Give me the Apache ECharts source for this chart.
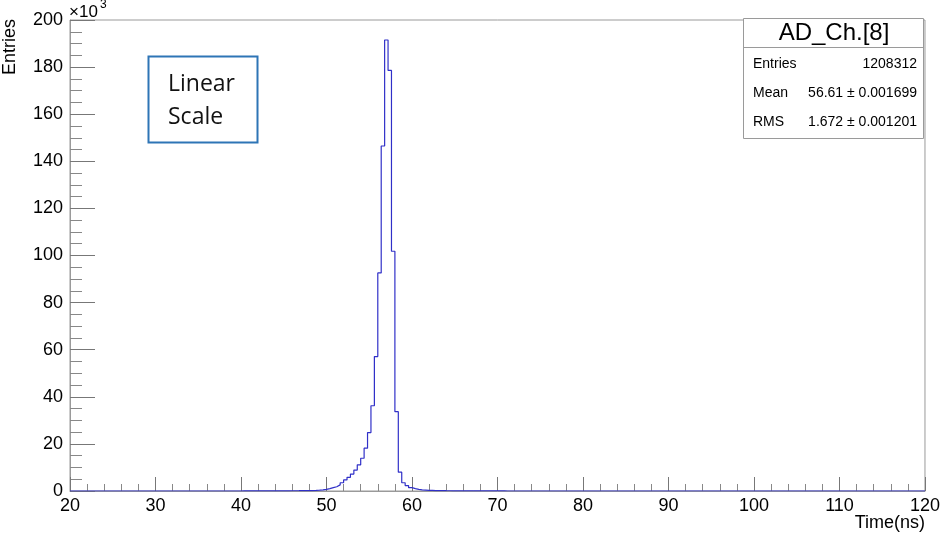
<!DOCTYPE html>
<html>
<head>
<meta charset="utf-8">
<script src="https://cdn.jsdelivr.net/npm/echarts@6/dist/echarts.min.js"></script>
<style>
html,body{margin:0;padding:0;background:#fff;}
#chart{width:943px;height:534px;}
</style>
</head>
<body>
<div id="chart"></div>
<script>
// Histogram binning (ns)
const binStart = 20;
const binWidth = 0.4;
const xTicks = [20, 30, 40, 50, 60, 70, 80, 90, 100, 110, 120];
const yTicks = [0, 20, 40, 60, 80, 100, 120, 140, 160, 180, 200];
// Entries per bin, in units of 10^3 (250 bins from 20 to 120 ns)
const counts = [
  0,0,0,0,0,0,0,0,0,0,
  0,0,0,0,0,0,0,0,0,0,
  0,0,0,0,0,0,0,0,0,0,
  0,0,0,0,0,0,0,0,0,0,
  0,0,0,0,0,0,0,0,0,0,
  0.02,0.02,0.02,0.03,0.03,0.03,0.04,0.04,0.05,0.05,
  0.06,0.07,0.08,0.09,0.1,0.11,0.12,0.14,0.16,0.18,
  0.2,0.25,0.35,0.5,0.7,1.0,1.4,1.8,2.6,3.5,
  4.7,5.8,7.2,8.9,11.1,13.9,18.2,24.8,36.2,57.1,
  92.6,146.5,191.5,178.6,101.8,33.7,8.0,3.5,2.3,1.4,
  1.0,0.7,0.5,0.4,0.3,0.25,0.2,0.18,0.15,0.12,
  0.1,0.09,0.08,0.07,0.06,0.05,0.05,0.04,0.04,0.03,
  0.03,0.03,0.02,0.02,0.02,0.02,0.02,0.01,0.01,0.01,
  0,0,0,0,0,0,0,0,0,0,
  0,0,0,0,0,0,0,0,0,0,
  0,0,0,0,0,0,0,0,0,0,
  0,0,0,0,0,0,0,0,0,0,
  0,0,0,0,0,0,0,0,0,0,
  0,0,0,0,0,0,0,0,0,0,
  0,0,0,0,0,0,0,0,0,0,
  0,0,0,0,0,0,0,0,0,0,
  0,0,0,0,0,0,0,0,0,0,
  0,0,0,0,0,0,0,0,0,0,
  0,0,0,0,0,0,0,0,0,0,
  0,0,0,0,0,0,0,0,0,0
];
const statsTitle = 'AD_Ch.[8]';
const statsRows = [
  ['Entries', '1208312'],
  ['Mean', '56.61 \u00b1 0.001699'],
  ['RMS', '1.672 \u00b1 0.001201']
];
const noteLines = ['Linear', 'Scale'];

const stepData = counts.map((c, i) => [binStart + binWidth * i, c]);
stepData.push([binStart + binWidth * counts.length, counts[counts.length - 1]]);

const FONT = 'Liberation Sans, Arial, Helvetica, sans-serif';
const chart = echarts.init(document.getElementById('chart'), null, {renderer: 'canvas'});

const graphics = [
  // y-axis title
  {type: 'text', x: 10, y: 47, rotation: Math.PI / 2,
   style: {text: 'Entries', font: '18px ' + FONT, fill: '#000', align: 'center', verticalAlign: 'middle'}},
  // multiplier
  {type: 'text', x: 69, y: 12,
   style: {text: '\u00d710', font: '17px ' + FONT, fill: '#000', align: 'left', verticalAlign: 'middle'}},
  {type: 'text', x: 100, y: 5,
   style: {text: '3', font: '12px ' + FONT, fill: '#000', align: 'left', verticalAlign: 'middle'}},
  // x-axis title
  {type: 'text', x: 925, y: 523,
   style: {text: 'Time(ns)', font: '18px ' + FONT, fill: '#000', align: 'right', verticalAlign: 'middle'}},
  // stats box
  {type: 'rect', shape: {x: 743.5, y: 18.5, width: 180, height: 120},
   style: {fill: '#fff', stroke: '#9a9a9a', lineWidth: 1}, z: 10},
  {type: 'line', shape: {x1: 743.5, y1: 47.5, x2: 923.5, y2: 47.5},
   style: {stroke: '#9a9a9a', lineWidth: 1}, z: 11},
  {type: 'text', x: 834, y: 33, z: 12,
   style: {text: statsTitle, font: '24px ' + FONT, fill: '#000', align: 'center', verticalAlign: 'middle'}},
  // note box
  {type: 'rect', shape: {x: 148.5, y: 56.5, width: 109, height: 86},
   style: {fill: '#fff', stroke: '#2e75b6', lineWidth: 2}, z: 10}
];
statsRows.forEach((r, i) => {
  const yy = 64 + i * 29;
  graphics.push({type: 'text', x: 753, y: yy, z: 12,
    style: {text: r[0], font: '14px ' + FONT, fill: '#000', align: 'left', verticalAlign: 'middle'}});
  graphics.push({type: 'text', x: 917, y: yy, z: 12,
    style: {text: r[1], font: '14px ' + FONT, fill: '#000', align: 'right', verticalAlign: 'middle'}});
});
noteLines.forEach((t, i) => {
  graphics.push({type: 'text', x: 168, y: 84 + i * 33, z: 12,
    style: {text: t, font: '23px "Open Sans", sans-serif', fill: '#111', align: 'left', verticalAlign: 'middle'}});
});

chart.setOption({
  animation: false,
  backgroundColor: '#fff',
  grid: {left: 70, right: 18, top: 20, bottom: 43, show: true, borderColor: '#9a9a9a', borderWidth: 1, containLabel: false},
  xAxis: {
    type: 'value', min: xTicks[0], max: xTicks[xTicks.length - 1], interval: xTicks[1] - xTicks[0],
    axisLine: {show: true, lineStyle: {color: '#9a9a9a', width: 1}},
    axisTick: {show: true, inside: true, length: 14, lineStyle: {color: '#777'}},
    minorTick: {show: true, splitNumber: 5, length: 7, lineStyle: {color: '#888'}},
    splitLine: {show: false},
    axisLabel: {show: true, margin: 6, color: '#000', fontSize: 18, fontFamily: FONT,
      formatter: v => String(v)}
  },
  yAxis: {
    type: 'value', min: yTicks[0], max: yTicks[yTicks.length - 1], interval: yTicks[1] - yTicks[0],
    axisLine: {show: true, lineStyle: {color: '#9a9a9a', width: 1}},
    axisTick: {show: true, inside: true, length: 25, lineStyle: {color: '#777'}},
    minorTick: {show: true, splitNumber: 4, length: 12, lineStyle: {color: '#888'}},
    splitLine: {show: false},
    axisLabel: {show: true, margin: 7, color: '#000', fontSize: 18, fontFamily: FONT,
      formatter: v => String(v)}
  },
  series: [{
    type: 'line',
    step: 'end',
    data: stepData,
    showSymbol: false,
    symbol: 'none',
    lineStyle: {color: '#3030c8', width: 1.2},
    z: 5
  }],
  graphic: graphics
});
</script>
</body>
</html>
